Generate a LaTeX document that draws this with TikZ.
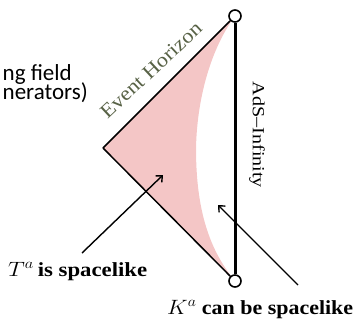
\documentclass[tikz,border=0pt]{standalone}
\usepackage{fontspec}
\usepackage{graphicx}
\setmainfont{Liberation Serif}[BoldFont={Liberation Serif Bold},ItalicFont={Liberation Serif Italic}]
\newfontfamily\calfont{Carlito}
\newfontfamily\claimfont{Liberation Serif Bold}
\usetikzlibrary{arrows.meta}
\definecolor{pinkfill}{RGB}{244,198,198}
\definecolor{horizoncol}{RGB}{88,98,70}
\begin{document}
\begin{tikzpicture}[x=1pt,y=-1pt,
  endpt/.style={circle,draw,fill=white,line width=1.6pt,minimum size=12pt,inner sep=0pt},
  horizon/.style={line width=1.5pt},
  infinity/.style={line width=3pt},
  pointer/.style={line width=1.4pt,-{Straight Barb[length=5pt,width=9pt,line width=1.4pt]}},
  sidetext/.style={inner sep=0pt,font=\calfont\fontsize{23}{27}\selectfont},
  claim/.style={inner sep=0pt,anchor=base west,font=\claimfont\fontsize{20}{24}\selectfont}]
\useasboundingbox (0,0) rectangle (353,324);
\coordinate (L) at (103,148);
\coordinate (Tp) at (235,16);
\coordinate (Bt) at (235,281);
\fill[pinkfill] (L) -- (Tp) .. controls (210,50) and (197,100) .. (196,148)
   .. controls (196,200) and (205,245) .. (Bt) -- cycle;
\node[endpt] (top) at (Tp) {};
\node[endpt] (bot) at (Bt) {};
\draw[horizon] (L) -- (top);
\draw[horizon] (L) -- (bot);
\draw[infinity] (top) -- (bot);
\node[sidetext,anchor=base east] (kf) at (72,80) {ng field};
\node[sidetext,anchor=base east] (gen) at (88,99) {nerators)};
\node[rotate=43,inner sep=0pt,text=horizoncol,font=\fontsize{20}{24}\selectfont] (eh) at (151,70)
   {\resizebox{131pt}{\height}{Event Horizon}};
\node[rotate=-90,inner sep=0pt,font=\fontsize{17}{20}\selectfont] (ads) at (257,135)
   {\resizebox{106pt}{\height}{AdS–Infinity}};
\node[claim] (tlab) at (8,276) {\resizebox{139pt}{\height}{$T^{a}$\,is spacelike}};
\node[claim] (klab) at (167,314) {\resizebox{186pt}{\height}{$K^{a}$ can be spacelike}};
\coordinate (ta) at (82,253);
\coordinate (th) at (163,175);
\coordinate (ka) at (298,285);
\coordinate (kh) at (218,205);
\draw[pointer] (ta) -- (th);
\draw[pointer] (ka) -- (kh);
\end{tikzpicture}
\end{document}
